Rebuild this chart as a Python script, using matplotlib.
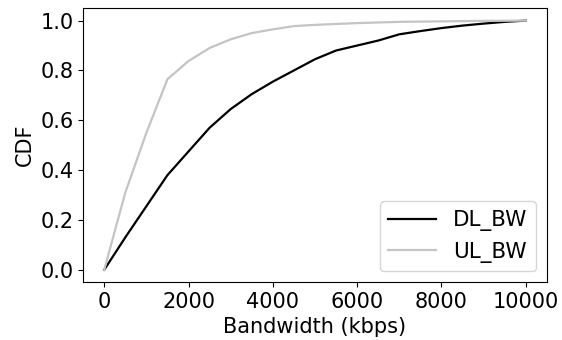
import matplotlib
matplotlib.use("Agg")
import matplotlib.pyplot as plt

# CDF of bandwidth samples (kbps)
dl_bw = [0, 500, 1000, 1500, 2000, 2500, 3000, 3500, 4000, 4500, 5000,
         5500, 6000, 6500, 7000, 7500, 8000, 8500, 9000, 9500, 10000]
dl_cdf = [0.0, 0.13, 0.255, 0.38, 0.475, 0.57, 0.645, 0.705, 0.755, 0.80, 0.845,
          0.88, 0.90, 0.92, 0.945, 0.958, 0.97, 0.98, 0.988, 0.995, 1.0]

ul_bw = [0, 500, 1000, 1500, 2000, 2500, 3000, 3500, 4000, 4500, 5000,
         6000, 7000, 8000, 9000, 10000]
ul_cdf = [0.0, 0.31, 0.55, 0.765, 0.838, 0.89, 0.925, 0.95, 0.965, 0.978, 0.983,
          0.99, 0.995, 0.997, 0.999, 1.0]

fig, ax = plt.subplots(figsize=(5.62, 3.4), dpi=100)

ax.plot(dl_bw, dl_cdf, color="black", linewidth=1.6, label="DL_BW")
ax.plot(ul_bw, ul_cdf, color="#c4c4c4", linewidth=1.6, label="UL_BW")

ax.set_xlabel("Bandwidth (kbps)", fontsize=15)
ax.set_ylabel("CDF", fontsize=15)
ax.tick_params(labelsize=15)
ax.legend(loc="lower right", fontsize=15.5, handlelength=2.2)

fig.subplots_adjust(left=0.148, right=0.973, top=0.976, bottom=0.17)
fig.savefig("out.png", dpi=100)
